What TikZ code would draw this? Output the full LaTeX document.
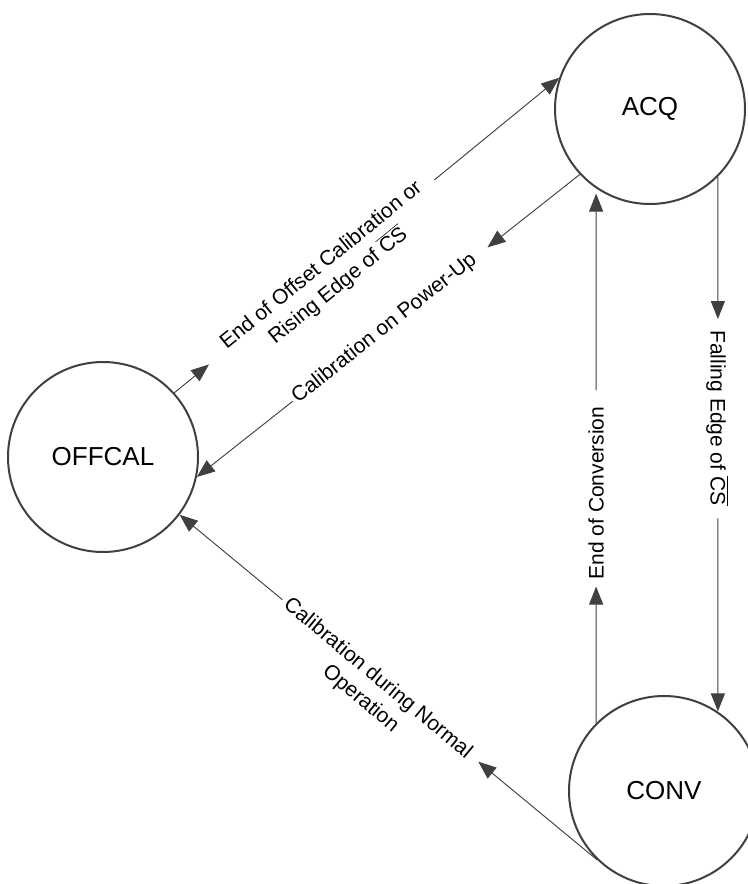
\documentclass[tikz,border=0pt]{standalone}
\usepackage{fontspec}
\setmainfont{Liberation Sans}
\usetikzlibrary{arrows.meta,calc}
\definecolor{dk}{RGB}{64,64,64}
\tikzset{
  state/.style={circle, draw=dk, line width=1.5pt, minimum size=142.5pt, inner sep=0pt,
                font=\fontsize{19.5pt}{23pt}\selectfont},
  conn/.style={draw=dk, line width=0.7pt},
  tipped/.style={-{Triangle[length=13.5pt,width=10.5pt]}},
  lbl/.style={font=\fontsize{15.75pt}{20pt}\selectfont, align=center, inner sep=0pt},
}
\begin{document}
\begin{tikzpicture}[x=0.75pt,y=-0.75pt]
\useasboundingbox (0,0) rectangle (748,884);
\fill[white] (0,0) rectangle (748,884);

\node[state] (acq) at (650,109) {ACQ};
\node[state] (offcal) at (103,457) {OFFCAL};
\node[state] (conv) at (664,791) {CONV};

% OFFCAL -> ACQ
\draw[conn, tipped] (offcal.42.4) -- ($(offcal.42.4)!0.090!(acq.161)$);
\draw[conn, tipped] ($(offcal.42.4)!0.676!(acq.161)$) -- (acq.161);
\node[lbl, rotate=39.1] (l1) at (330,276) {End of Offset Calibration or\\Rising Edge of $\overline{\mbox{CS}}$};

% ACQ -> OFFCAL
\draw[conn, tipped] (acq.223.3) -- ($(acq.223.3)!0.241!(offcal.348)$);
\draw[conn, tipped] ($(acq.223.3)!0.75!(offcal.348)$) -- (offcal.348);
\node[lbl, rotate=38.3] (l2) at (384.5,328.5) {Calibration on Power-Up};

% CONV -> ACQ
\coordinate (c3e) at ($(conv.135.2 |- acq.236.1)+(0,5)$);
\draw[conn, tipped] (conv.135.2) -- ($(conv.135.2)!0.258!(c3e)$);
\draw[conn, tipped] ($(conv.135.2)!0.629!(c3e)$) -- (c3e);
\node[lbl, rotate=90] (l3) at (596,493) {End of Conversion};

% ACQ -> CONV
\coordinate (c4e) at (acq.315.2 |- conv.56.1);
\draw[conn, tipped] (acq.315.2) -- ($(acq.315.2)!0.266!(c4e)$);
\draw[conn, tipped] ($(acq.315.2)!0.639!(c4e)$) -- (c4e);
\node[lbl, rotate=-90] (l4) at (717,418) {Falling Edge of $\overline{\mbox{CS}}$};

% CONV -> OFFCAL
\draw[conn, tipped] (conv.226.7) -- ($(conv.226.7)!0.285!(offcal.323)$);
\draw[conn, tipped] ($(conv.226.7)!0.754!(offcal.323)$) -- (offcal.323);
\node[lbl, rotate=-39.8] (l5) at (369,689) {Calibration during Normal\\Operation};
\end{tikzpicture}
\end{document}
